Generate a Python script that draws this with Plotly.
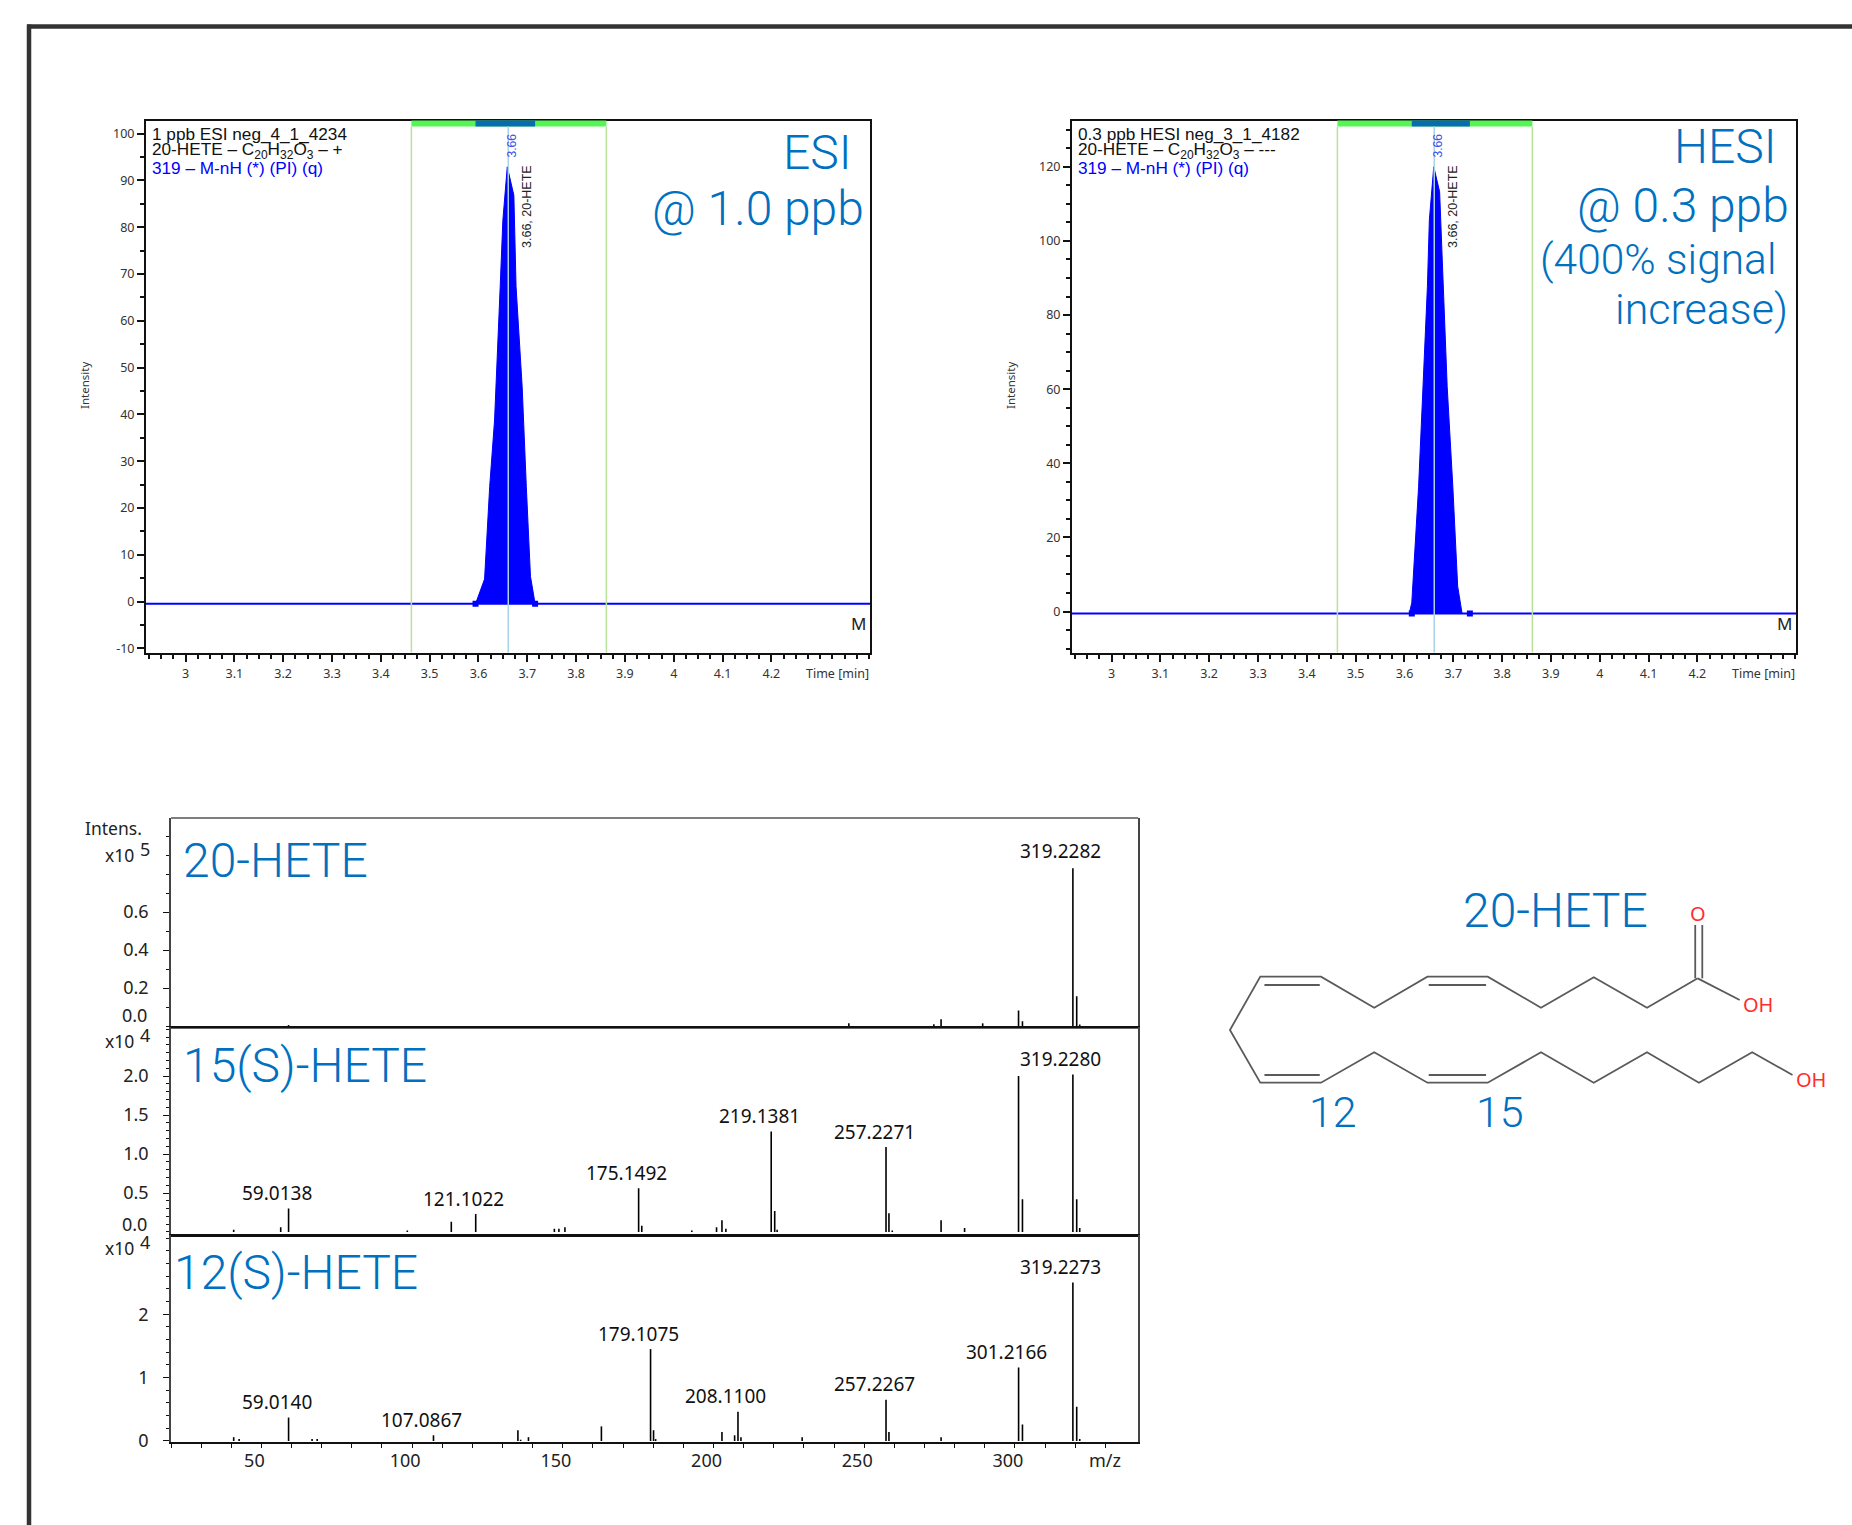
import plotly.graph_objects as go

W, H = 1852, 1525
BLUE = "#0070c0"

# ---------- chromatogram data ----------
esi_t = [3.594, 3.6125, 3.623, 3.633, 3.6445, 3.65, 3.659, 3.6725, 3.677, 3.6895, 3.698, 3.7065, 3.716]
esi_i = [-0.5, 4.8, 24.6, 38.8, 67.3, 81.5, 92.9, 86.8, 67.3, 45.9, 24.6, 5.4, -0.5]
hesi_t = [3.610, 3.615, 3.629, 3.638, 3.647, 3.651, 3.660, 3.672, 3.679, 3.6875, 3.699, 3.709, 3.718]
hesi_i = [-0.5, 2.4, 33.8, 60.7, 87.7, 105.7, 120, 113.3, 87.7, 60.7, 33.8, 6.8, -0.5]
time_range = [2.919, 4.402]
esi_base = -0.5
hesi_base = -0.5
window = [3.4626, 3.862]
rt = 3.661
esi_int = [3.594, 3.716]
hesi_int = [3.615, 3.734]
time_ticks = [3, 3.1, 3.2, 3.3, 3.4, 3.5, 3.6, 3.7, 3.8, 3.9, 4, 4.1, 4.2]
time_labels = ["3", "3.1", "3.2", "3.3", "3.4", "3.5", "3.6", "3.7", "3.8", "3.9", "4", "4.1", "4.2"]
esi_yticks = [-10, 0, 10, 20, 30, 40, 50, 60, 70, 80, 90, 100]
esi_ytext = ["-10", "0", "10", "20", "30", "40", "50", "60", "70", "80", "90", "100"]
hesi_yticks = [0, 20, 40, 60, 80, 100, 120]
hesi_ytext = ["0", "20", "40", "60", "80", "100", "120"]

# ---------- mass spectra data ----------
mz_20 = [59, 244.9, 273.1, 275.5, 289.3, 301.2, 302.5, 319.23, 320.5, 321.5]
in_20 = [0.005, 0.014, 0.009, 0.035, 0.014, 0.081, 0.025, 0.83, 0.156, 0.008]
mz_15 = [40.8, 56.4, 59.01, 98.4, 113, 121.1, 147.2, 148.7, 150.7, 175.15, 176.2, 192.8, 201, 202.8, 204.1,
         219.14, 220.3, 221.1, 257.23, 258.2, 259.3, 275.5, 283.3, 301.2, 302.5, 319.23, 320.5, 321.5]
in_15 = [0.03, 0.06, 0.30, 0.02, 0.13, 0.23, 0.04, 0.04, 0.06, 0.56, 0.08, 0.02, 0.06, 0.15, 0.04,
         1.29, 0.27, 0.03, 1.09, 0.24, 0.02, 0.15, 0.05, 2.0, 0.42, 2.02, 0.42, 0.05]
mz_12 = [40.8, 42.6, 59.01, 66.8, 68.5, 107.09, 135.1, 136, 138.6, 162.8, 179.11, 180.1, 180.8, 202.8, 207,
         208.11, 209.1, 229.4, 257.23, 258.2, 275.5, 301.22, 302.5, 319.23, 320.5, 321.5]
in_12 = [0.06, 0.03, 0.37, 0.03, 0.03, 0.09, 0.17, 0.02, 0.06, 0.23, 1.45, 0.17, 0.03, 0.14, 0.09,
         0.46, 0.06, 0.06, 0.65, 0.14, 0.06, 1.16, 0.26, 2.5, 0.54, 0.03]
labels_20 = [("319.2282", 319.23, 0.83)]
labels_15 = [("59.0138", 59.01, 0.30), ("121.1022", 121.1, 0.23), ("175.1492", 175.15, 0.56),
             ("219.1381", 219.14, 1.29), ("257.2271", 257.23, 1.09), ("319.2280", 319.23, 2.02)]
labels_12 = [("59.0140", 59.01, 0.37), ("107.0867", 107.09, 0.09), ("179.1075", 179.11, 1.45),
             ("208.1100", 208.11, 0.46), ("257.2267", 257.23, 0.65), ("301.2166", 301.22, 1.16),
             ("319.2273", 319.23, 2.5)]
mz_range = [20, 340.9]
mz_ticks = [50, 100, 150, 200, 250, 300]
mz_text = ["50", "100", "150", "200", "250", "300"]
mz_minor = [20, 30, 40, 60, 70, 80, 90, 110, 120, 130, 140, 160, 170, 180, 190, 210, 220, 230, 240, 260, 270, 280, 290, 310, 320, 330]

# ---------- structure drawing (zoomed picture coordinates) ----------
chain = [(1197, 355), (1075, 443), (947, 352), (820, 443), (692, 350), (547, 350), (419, 443), (291, 350),
         (145, 350), (72, 510), (145, 668), (291, 668), (419, 577), (547, 668), (692, 668), (820, 577),
         (947, 668), (1075, 577), (1200, 668), (1328, 577), (1425, 645)]
extra_bonds = [[(1197, 355), (1298, 420)], [(1191, 355), (1191, 195)], [(1208, 355), (1208, 195)],
               [(155, 375), (288, 375)], [(550, 375), (688, 375)], [(155, 645), (288, 645)], [(550, 645), (688, 645)]]


def sx(v):
    return 1200 + v / 2.405


def sy(v):
    return 860 + v / 3


fig = go.Figure()
ann = []
shapes = []


def dom_x(a, b):
    return [a / W, b / W]


def dom_y(top, bot):
    return [1 - bot / H, 1 - top / H]


def txt(px, py, text, size, color="#222", family="Noto Sans", anchor="center", angle=0, weight=None, valign="middle"):
    f = dict(size=size, color=color, family=family)
    if weight:
        f["weight"] = weight
    ann.append(dict(xref="paper", yref="paper", x=px / W, y=1 - py / H, text=text, showarrow=False, font=f,
                    xanchor=anchor, yanchor=valign, textangle=angle, borderpad=0, borderwidth=0))


def big(px, py, text, size=48, anchor="left"):
    txt(px, py, text, size, BLUE, "Roboto", anchor, weight=300)


def chrom(i, left, right, t, v, base, integ, yrange, yticks, ytext, header, xs):
    xa, ya = f"x{i}", f"y{i}"
    xk, yk = f"xaxis{i}", f"yaxis{i}"
    fig.add_trace(go.Scatter(x=time_range, y=[base, base], mode="lines", line=dict(color="#0000ff", width=2),
                             xaxis=xa, yaxis=ya, showlegend=False))
    fig.add_trace(go.Scatter(x=t, y=v, mode="lines", fill="toself", fillcolor="#0000ff",
                             line=dict(color="#0000ff", width=1), xaxis=xa, yaxis=ya, showlegend=False))
    fig.add_trace(go.Scatter(x=integ, y=[base, base], mode="markers", marker=dict(symbol="square", size=6, color="#0000ff"),
                             xaxis=xa, yaxis=ya, showlegend=False))
    fig.layout[xk] = dict(domain=dom_x(left, right), range=time_range, anchor=ya, showline=True, mirror=True, automargin=False,
                          linecolor="#111", linewidth=2, showgrid=False, zeroline=False, ticks="outside", ticklen=7,
                          tickwidth=1.5, tickcolor="#111", tickmode="array", tickvals=time_ticks, ticktext=time_labels,
                          tickfont=dict(size=12.5, family="Noto Sans", color="#333"), ticklabelstandoff=1,
                          minor=dict(ticks="outside", ticklen=4, tickwidth=1.5, tickcolor="#111", tickmode="linear", tick0=3, dtick=0.025))
    fig.layout[yk] = dict(domain=dom_y(120.5, 652.5), range=yrange, anchor=xa, showline=True, mirror=True, automargin=False,
                          linecolor="#111", linewidth=2, showgrid=False, zeroline=False, ticks="outside", ticklen=7,
                          tickwidth=1.5, tickcolor="#111", tickmode="array", tickvals=yticks, ticktext=ytext,
                          tickfont=dict(size=12.5, family="Noto Sans", color="#333"), ticklabelstandoff=0,
                          minor=dict(ticks="outside", ticklen=4, tickwidth=1.5, tickcolor="#111", tickmode="linear", tick0=0, dtick=5))
    top = 6 / 533
    dom = f"{ya} domain"
    shapes.append(dict(type="rect", xref=xa, yref=dom, x0=window[0], x1=window[1], y0=1 - top, y1=1,
                       fillcolor="#55f555", line=dict(width=0)))
    shapes.append(dict(type="rect", xref=xa, yref=dom, x0=integ[0], x1=integ[1], y0=1 - top, y1=1,
                       fillcolor="#0a6ab4", line=dict(width=0)))
    for w in window:
        shapes.append(dict(type="line", xref=xa, yref=dom, x0=w, x1=w, y0=0, y1=1 - top, line=dict(color="#b9e29a", width=1.5)))
    shapes.append(dict(type="line", xref=xa, yref=dom, x0=rt, x1=rt, y0=0, y1=1 - top, line=dict(color="#a9d3ea", width=1.5)))
    # headers
    for k, (line, col) in enumerate(header):
        txt(left + 6, 133.5 + k * 17.3, line, 17.2, col, "Liberation Sans", "left")
    txt(84 + xs, 386, "Intensity", 11.5, "#333", "Noto Sans", angle=-90)
    txt(left + 691, 673, "Time [min]", 12.5, "#333", "Noto Sans")
    txt(left + 712, 624, "M", 17, "#222", "Noto Sans")
    txt(left + 365.5, 146, "3.66", 12, "#3a55e8", "Liberation Sans", angle=-90)
    txt(left + 381, 207, "3.66, 20-HETE", 12.5, "#222", "Liberation Sans", angle=-90)


chrom(2, 146, 870, esi_t, esi_i, esi_base, esi_int, [-10.9, 102.8], esi_yticks, esi_ytext,
      [("1 ppb ESI neg_4_1_4234", "#111"), ("20-HETE – C<sub>20</sub>H<sub>32</sub>O<sub>3</sub> – +", "#111"),
       ("319 – M-nH (*) (PI) (q)", "#0000ff")], 0)
chrom(3, 1072, 1796, hesi_t, hesi_i, hesi_base, hesi_int, [-11.05, 132.5], hesi_yticks, hesi_ytext,
      [("0.3 ppb HESI neg_3_1_4182", "#111"), ("20-HETE – C<sub>20</sub>H<sub>32</sub>O<sub>3</sub> – ---", "#111"),
       ("319 – M-nH (*) (PI) (q)", "#0000ff")], 926)

big(852, 152, "ESI", anchor="right")
big(863.5, 209, "@ 1.0 ppb", anchor="right")
big(1777, 146, "HESI", anchor="right")
big(1788.5, 205, "@ 0.3 ppb", anchor="right")
big(1776, 259, "(400% signal", size=42.5, anchor="right")
big(1788, 309, "increase)", size=43, anchor="right")


def spec(i, top, bot, mz, inten, yrange, ticks, ticktext, dminor, labels, show_x, bottom_w=2.0, ly=15.5):
    xa, ya = f"x{i}", f"y{i}"
    xs, ys = [], []
    for m, v in zip(mz, inten):
        xs += [m, m, None]
        ys += [0, v, None]
    fig.add_trace(go.Scatter(x=xs, y=ys, mode="lines", line=dict(color="#000", width=1.6), xaxis=xa, yaxis=ya,
                             showlegend=False, connectgaps=False))
    xcfg = dict(domain=dom_x(171, 1138.2), range=mz_range, anchor=ya, showline=True, linecolor="#111", linewidth=bottom_w,
                automargin=False, showgrid=False, zeroline=False, tickmode="array", tickvals=mz_ticks, tickcolor="#111", tickwidth=1)
    if show_x:
        xcfg.update(ticks="outside", ticklen=4, ticktext=mz_text, ticklabelshift=-7,
                    tickfont=dict(size=18, family="Noto Sans", color="#222"), ticklabelstandoff=-3,
                    minor=dict(ticks="outside", ticklen=4, tickwidth=1, tickcolor="#111", tickmode="array", tickvals=mz_minor))
    else:
        xcfg.update(ticks="", showticklabels=False)
    fig.layout[f"xaxis{i}"] = xcfg
    fig.layout[f"yaxis{i}"] = dict(domain=dom_y(top, bot), range=yrange, anchor=xa, showline=True, mirror=True, automargin=False,
                                   linecolor="#444", linewidth=1.5, showgrid=False, zeroline=False, ticks="outside",
                                   ticklen=6, tickwidth=1.2, tickcolor="#111", tickmode="array", tickvals=ticks,
                                   ticktext=ticktext, tickfont=dict(size=18, family="Noto Sans", color="#222"),
                                   ticklabelstandoff=11,
                                   minor=dict(ticks="outside", ticklen=3, tickwidth=1.2, tickcolor="#111", tickmode="linear", tick0=0, dtick=dminor))
    for text, m, v in labels:
        ann.append(dict(xref=xa, yref=ya, x=m, y=v, text=text, showarrow=False, xshift=-12, yshift=ly, xanchor="center",
                        yanchor="middle", font=dict(size=19, family="Noto Sans", color="#111")))


spec(4, 818, 1026, mz_20, in_20, [0, 1.095], [0.2, 0.4, 0.6], ["0.2", "0.4", "0.6"], 0.1, labels_20, False, 2.5, 17)
spec(5, 1027, 1234, mz_15, in_15, [-0.026, 2.63], [0.5, 1, 1.5, 2], ["0.5", "1.0", "1.5", "2.0"], 0.1, labels_15, False, 2.5)
spec(6, 1235, 1442, mz_12, in_12, [-0.016, 3.25], [0, 1, 2], ["0", "1", "2"], 0.2, labels_12, True)

shapes.append(dict(type="line", xref="paper", yref="paper", x0=171 / W, x1=1138.2 / W, y0=1 - 818 / H, y1=1 - 818 / H,
                   line=dict(color="#555", width=1.5)))
shapes.append(dict(type="line", xref="paper", yref="paper", x0=171 / W, x1=1138.2 / W, y0=1 - 1028.5 / H, y1=1 - 1028.5 / H,
                   line=dict(color="#666", width=1)))

txt(147, 1015, "0.0", 18, "#222", anchor="right")
txt(147, 1224, "0.0", 18, "#222", anchor="right")
txt(113, 828, "Intens.", 17.5, "#222")
for y, exp in [(855, "5"), (1041, "4"), (1248, "4")]:
    txt(134, y, "x10", 17.5, "#222", anchor="right")
    txt(144.5, y - 6, exp, 18, "#222")
txt(1104.6, 1460, "m/z", 18, "#222")

big(183, 860, "20-HETE")
big(183, 1065, "15(S)-HETE")
big(174, 1272, "12(S)-HETE")
big(1555, 910, "20-HETE", anchor="center")
big(1333, 1112, "12", size=43, anchor="center")
big(1500, 1112, "15", size=43, anchor="center")

# ---------- structure ----------
bx, by = [], []
for bond in [chain] + extra_bonds:
    bx += [sx(p[0]) for p in bond] + [None]
    by += [sy(p[1]) for p in bond] + [None]
fig.add_trace(go.Scatter(x=bx, y=by, mode="lines", line=dict(color="#5a5a5a", width=1.8), xaxis="x7", yaxis="y7", showlegend=False))
fig.layout.xaxis7 = dict(domain=[0, 1], range=[0, W], visible=False, anchor="y7", fixedrange=True, automargin=False)
fig.layout.yaxis7 = dict(domain=[0, 1], range=[H, 0], visible=False, anchor="x7", fixedrange=True, automargin=False)
txt(sx(1197), sy(159), "O", 20, "#ff2d2d")
txt(sx(1342), sy(434), "OH", 20, "#ff2d2d")
txt(sx(1470), sy(658), "OH", 20, "#ff2d2d")

# page frame
shapes.append(dict(type="line", xref="paper", yref="paper", x0=27 / W, x1=1, y0=1 - 26.5 / H, y1=1 - 26.5 / H, line=dict(color="#333", width=4.5)))
shapes.append(dict(type="line", xref="paper", yref="paper", x0=29 / W, x1=29 / W, y0=0, y1=1 - 24.5 / H, line=dict(color="#333", width=4.5)))

fig.update_layout(template="none", width=W, height=H, autosize=False, margin=dict(l=0, r=0, t=0, b=0, pad=0), paper_bgcolor="white",
                  plot_bgcolor="rgba(0,0,0,0)", annotations=ann, shapes=shapes, showlegend=False)
fig.write_html("out.html", config=dict(displayModeBar=False, responsive=False),
               post_script="document.body.style.margin='0';document.body.style.overflow='hidden';")
